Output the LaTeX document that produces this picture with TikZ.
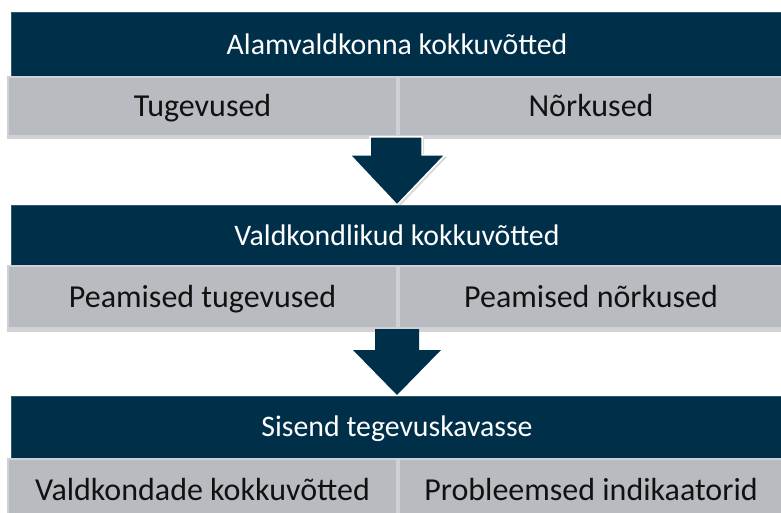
\documentclass[tikz,border=0pt]{standalone}
\usepackage{fontspec}
\setmainfont{Carlito}
\usetikzlibrary{shadows}
\definecolor{navy}{RGB}{0,48,73}
\definecolor{cellgray}{RGB}{184,187,192}
\definecolor{celledge}{RGB}{206,209,213}
\definecolor{txt}{RGB}{17,17,17}
\tikzset{
  banner/.style={fill=navy, draw=navy!80!white, line width=0.6pt, inner sep=0pt, text=white,
    font=\fontsize{29.8}{34}\selectfont, text height=19.2pt, text depth=0pt, minimum width=772pt},
  cell/.style={fill=cellgray, draw=celledge, line width=1.2pt, inner sep=0pt, text=txt,
    font=\fontsize{32}{36}\selectfont, text height=20.6pt, text depth=0pt,
    drop shadow={shadow xshift=-1pt, shadow yshift=-3.5pt, opacity=0.35}},
  bigarrow/.style={fill=navy},
}
\begin{document}
\begin{tikzpicture}[x=1pt,y=-1pt]
\useasboundingbox (0,0) rectangle (781,513);
\clip (0,0) rectangle (781,513);
% row 1
\node[banner, minimum height=65pt] (b1) at (397,44.5) {Alamvaldkonna kokkuvõtted};
\node[cell, minimum width=389pt, minimum height=59pt] (c1l) at (202.5,106.5) {Tugevused};
\node[cell, minimum width=384pt, minimum height=59pt] (c1r) at (591,106.5) {Nõrkused};
% arrow 1
\draw[bigarrow, draw=white, line width=1.5pt, drop shadow={shadow xshift=2pt, shadow yshift=-2pt, opacity=0.3}]
  (370,137) -- (422,137) -- (422,155) -- (445,155) -- (397,205) -- (350,155) -- (370,155) -- cycle;
% row 2
\node[banner, minimum height=61pt] (b2) at (397,235.5) {Valdkondlikud kokkuvõtted};
\node[cell, minimum width=389pt, minimum height=62pt] (c2l) at (202.5,297) {Peamised tugevused};
\node[cell, minimum width=384pt, minimum height=62pt] (c2r) at (591,297) {Peamised nõrkused};
% arrow 2
\fill[navy] (375,329) -- (419,329) -- (419,350) -- (441,350) -- (397,395) -- (353,350) -- (375,350) -- cycle;
% row 3
\node[banner, minimum height=62pt] (b3) at (397,427) {Sisend tegevuskavasse};
\node[cell, minimum width=389pt, minimum height=62pt] (c3l) at (202.5,490) {Valdkondade kokkuvõtted};
\node[cell, minimum width=384pt, minimum height=62pt] (c3r) at (591,490) {Probleemsed indikaatorid};
\end{tikzpicture}
\end{document}
